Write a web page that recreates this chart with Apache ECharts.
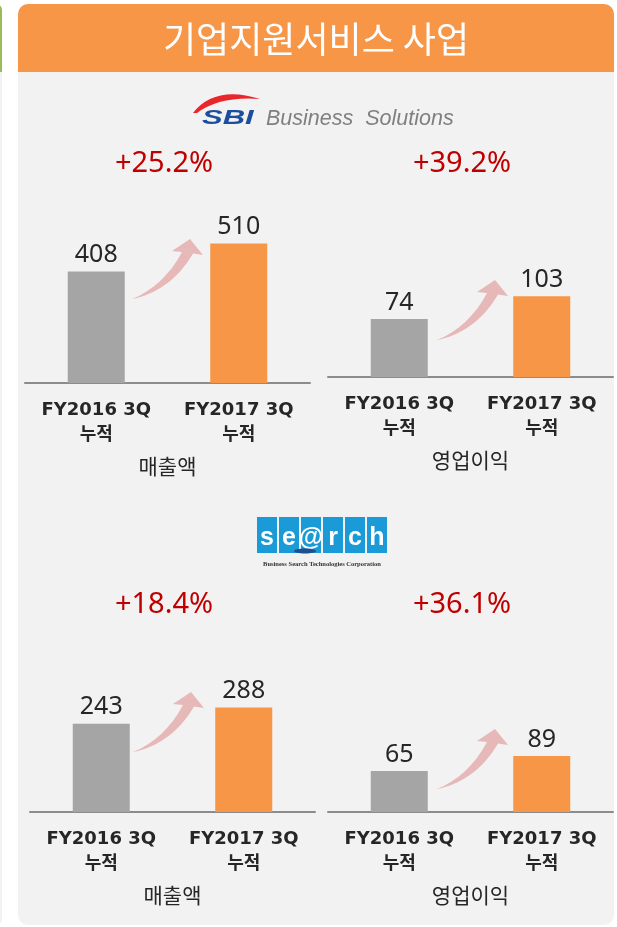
<!DOCTYPE html>
<html lang="ko">
<head>
<meta charset="UTF-8">
<title>기업지원서비스 사업</title>
<style>
  html, body { margin: 0; padding: 0; background: #fff; }
  #chart { width: 617px; height: 927px; }
</style>
</head>
<body>
<div id="chart"></div>
<script src="https://cdn.jsdelivr.net/npm/echarts@6/dist/echarts.min.js"></script>
<script>
// chart data
const categories = ['FY2016 3Q\n누적', 'FY2017 3Q\n누적'];
const sbiSales = [408, 510];
const sbiProfit = [74, 103];
const searchSales = [243, 288];
const searchProfit = [65, 89];
const metricNames = ['매출액', '영업이익', '매출액', '영업이익'];
const growthLabels = ['+25.2%', '+39.2%', '+18.4%', '+36.1%'];
const titleText = '기업지원서비스 사업';

const GRAY = '#a5a5a5';
const ORANGE = '#f79646';
const TEXT = '#262626';
const KR = "'Noto Sans CJK KR'";

// one panel per chart: grid box + y max (keeps the picture's scale)
const panels = [
  { data: sbiSales,     grid: { left: 25,  top: 219, width: 285, height: 164 }, max: 600 },
  { data: sbiProfit,    grid: { left: 328, top: 283, width: 285, height: 94 },  max: 120 },
  { data: searchSales,  grid: { left: 30,  top: 685, width: 285, height: 127 }, max: 350 },
  { data: searchProfit, grid: { left: 328, top: 749, width: 285, height: 63 },  max: 100 }
];
const growthPos = [[164, 164], [462, 164], [164, 605], [462, 605]];
const arrowTails = [[132, 299], [437, 340], [133, 752], [437, 789]];

// custom shapes for the graphic component (no plain 'path' type there)
echarts.graphic.registerShape('pinkArrow', echarts.graphic.extendPath(
  'M0 0 C22 -4 45 -18 61 -45.5 L71 -44 L58 -60 L40 -48 L50 -47 C38 -24 20 -8 0 0 Z', {}));
echarts.graphic.registerShape('sbiSwoosh', echarts.graphic.extendPath(
  'M193 113 Q215 85 260 99 Q220 96 197 113 Z', {}));

const chart = echarts.init(document.getElementById('chart'));

const grid = panels.map(p => p.grid);
const xAxis = panels.map((p, i) => ({
  type: 'category',
  gridIndex: i,
  data: categories,
  axisTick: { show: false },
  axisLine: { lineStyle: { color: '#8c8c8c', width: 2 } },
  axisLabel: {
    interval: 0,
    margin: 15,
    fontSize: 18,
    fontWeight: 'bold',
    lineHeight: 25,
    color: TEXT,
    fontFamily: "'DejaVu Sans', 'Noto Sans CJK KR'"
  },
  name: metricNames[i],
  nameLocation: 'middle',
  nameGap: 73,
  nameTextStyle: { fontSize: 21, color: TEXT, fontFamily: KR }
}));
const yAxis = panels.map((p, i) => ({
  type: 'value', gridIndex: i, min: 0, max: p.max, show: false, splitLine: { show: false }
}));
const series = panels.map((p, i) => ({
  type: 'bar',
  xAxisIndex: i,
  yAxisIndex: i,
  barWidth: 57,
  data: p.data,
  itemStyle: { color: params => params.dataIndex === 0 ? GRAY : ORANGE },
  label: {
    show: true,
    position: 'top',
    distance: 4,
    fontSize: 25,
    color: TEXT,
    fontFamily: "'Noto Sans'"
  }
}));

const center = { align: 'center', verticalAlign: 'middle', textAlign: 'center', textVerticalAlign: 'middle' };

const graphic = [
  // neighbour panel edge on the left
  { type: 'rect', z: -10, shape: { x: -10, y: 4, width: 12, height: 921, r: 10 }, style: { fill: '#f2f2f2' } },
  { type: 'rect', z: -9, shape: { x: -10, y: 4, width: 12, height: 68, r: [10, 10, 0, 0] }, style: { fill: '#9bbb59' } },
  // main panel + header
  { type: 'rect', z: -10, shape: { x: 18, y: 4, width: 596, height: 921, r: 10 }, style: { fill: '#f2f2f2' } },
  { type: 'rect', z: -9, shape: { x: 18, y: 4, width: 596, height: 68, r: [10, 10, 0, 0] }, style: { fill: ORANGE } },
  { type: 'text', x: 316, y: 39, style: Object.assign({ text: titleText, fill: '#fff', font: '36px ' + KR }, center) },

  // SBI Business Solutions logo
  { type: 'sbiSwoosh', style: { fill: '#e8262c' } },
  { type: 'text', x: 202, y: 118, scaleX: 1.55, style: { text: 'SBI', fill: '#1c4ea0', font: 'italic bold 20px "Liberation Sans"', verticalAlign: 'middle', textVerticalAlign: 'middle' } },
  { type: 'text', x: 266, y: 119, style: { text: 'Business  Solutions', fill: '#808080', font: 'italic 21.5px "Liberation Sans"', verticalAlign: 'middle', textVerticalAlign: 'middle' } }
];

// se@rch logo blocks
'se@rch'.split('').forEach((ch, k) => {
  const bx = 257 + k * 22;
  graphic.push({ type: 'rect', shape: { x: bx, y: 517, width: 20, height: 36 }, style: { fill: '#1a9ad6' } });
  graphic.push({ type: 'text', x: bx + 10, y: 538, style: Object.assign({ text: ch, fill: '#fff', font: 'bold 25px "Liberation Sans"' }, center) });
});
graphic.push({ type: 'ellipse', shape: { cx: 305, cy: 551, rx: 11, ry: 2.5 }, style: { fill: '#1f4f8f' } });
graphic.push({ type: 'text', x: 322, y: 564, style: Object.assign({ text: 'Business Search Technologies Corporation', fill: '#333', font: 'bold 6.5px "Liberation Serif"' }, center) });

growthLabels.forEach((t, i) => {
  graphic.push({ type: 'text', x: growthPos[i][0], y: growthPos[i][1], style: Object.assign({ text: t, fill: '#c00000', font: '29px "Noto Sans"' }, center) });
});
arrowTails.forEach(p => {
  graphic.push({ type: 'pinkArrow', x: p[0], y: p[1], style: { fill: '#e6b9b8' } });
});

chart.setOption({
  backgroundColor: '#fff',
  animation: false,
  grid: grid,
  xAxis: xAxis,
  yAxis: yAxis,
  series: series,
  graphic: graphic
});
</script>
</body>
</html>
